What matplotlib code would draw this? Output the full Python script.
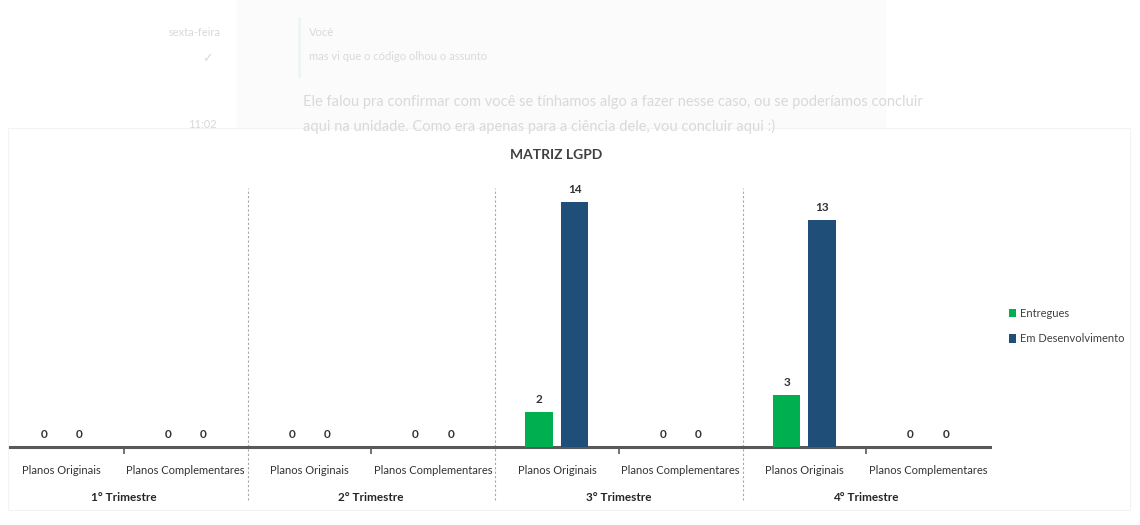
import matplotlib.pyplot as plt
import matplotlib.transforms as mtransforms
from matplotlib.patches import Rectangle
from matplotlib.lines import Line2D
import numpy as np

plt.rcParams['font.family'] = ['Lato', 'DejaVu Sans']

# data
categorias = ['Planos Originais', 'Planos Complementares'] * 4
trimestres = ['1° Trimestre', '2° Trimestre', '3° Trimestre', '4° Trimestre']
entregues = [0, 0, 0, 0, 2, 0, 3, 0]
em_desenvolvimento = [0, 0, 0, 0, 14, 0, 13, 0]
series_nomes = ['Entregues', 'Em Desenvolvimento']

verde = '#00B050'
azul = '#1F4E79'

W, H = 1140, 525
fig = plt.figure(figsize=(W / 100, H / 100), dpi=100)
fig.patch.set_facecolor('white')

# faint chat screenshot behind the chart
fig.patches.append(Rectangle((237 / W, 1 - 128 / H), 648 / W, 128 / H,
                             transform=fig.transFigure, color='#fbfbfb', zorder=0))
fig.patches.append(Rectangle((8 / W, 1 - 510 / H), 1122 / W, 382 / H,
                             transform=fig.transFigure, facecolor='white',
                             edgecolor='#f3f3f3', lw=0.8, zorder=0))
fig.lines.append(Line2D([299 / W, 299 / W], [1 - 18 / H, 1 - 76 / H],
                        transform=fig.transFigure, color='#eef5f5', lw=2))
fundo = '#d9d9d9'
fig.text(195 / W, 1 - 33 / H, 'sexta-feira', color=fundo, fontsize=8, ha='center', va='center')
fig.text(207 / W, 1 - 58 / H, '✓', color=fundo, fontsize=9, ha='center', va='center')
fig.text(202 / W, 1 - 124 / H, '11:02', color=fundo, fontsize=8, ha='center', va='center')
fig.text(309 / W, 1 - 32 / H, 'Você', color=fundo, fontsize=8, va='center')
fig.text(309 / W, 1 - 57 / H, 'mas vi que o código olhou o assunto', color=fundo, fontsize=8, va='center')
fig.text(303 / W, 1 - 102 / H,
         'Ele falou pra confirmar com você se tínhamos algo a fazer nesse caso, ou se poderíamos concluir',
         color=fundo, fontsize=10.5, va='center')
fig.text(303 / W, 1 - 126 / H,
         'aqui na unidade. Como era apenas para a ciência dele, vou concluir aqui :)',
         color=fundo, fontsize=10.5, va='center')

# chart
ax = fig.add_axes([0 / W, 1 - 447 / H, 990 / W, 264 / H])
ax.set_zorder(2)
ax.set_facecolor('none')
x = np.arange(len(categorias))
larg = 0.222
desl = 0.143
b1 = ax.bar(x - desl, entregues, larg, color=verde, label=series_nomes[0], zorder=3)
b2 = ax.bar(x + desl, em_desenvolvimento, larg, color=azul, label=series_nomes[1], zorder=3)
for barras in (b1, b2):
    ax.bar_label(barras, padding=5, fontsize=8.5, fontweight='bold', color='#333333')

ax.set_xlim(-0.5, len(categorias) - 0.5)
ax.set_ylim(0, 15.1)
ax.set_yticks([])
for s in ['top', 'right', 'left']:
    ax.spines[s].set_visible(False)
ax.spines['bottom'].set_color('#595959')
ax.spines['bottom'].set_linewidth(2.2)
ax.spines['bottom'].set_bounds(-0.42, len(categorias) - 0.5)

ax.set_xticks(x)
ax.set_xticklabels(categorias, fontsize=8, color='#333333')
ax.tick_params(axis='x', length=0, pad=13)
ax.set_xticks(np.arange(0.5, len(categorias), 2), minor=True)
ax.tick_params(axis='x', which='minor', length=5, width=1.2, color='#595959')

trans = mtransforms.blended_transform_factory(ax.transData, ax.transAxes)
for b in np.arange(1.5, len(categorias) - 1, 2):
    ax.plot([b, b], [-0.2, 0.98], transform=trans, color='#a6a6a6', lw=0.8,
            ls=(0, (2, 2)), clip_on=False, zorder=1)
for i, t in enumerate(trimestres):
    ax.text(2 * i + 0.5, -0.19, t, transform=trans, ha='center', va='center',
            fontsize=8.5, fontweight='bold', color='#262626')

fig.text(556 / W, 1 - 155 / H, 'MATRIZ LGPD', ha='center', va='center',
         fontsize=10, fontweight='bold', color='#404040')

fig.legend(handles=[b1, b2], loc='center left', bbox_to_anchor=(1009 / W, 1 - 326 / H),
           frameon=False, fontsize=8, handlelength=0.6, handleheight=0.8,
           handletextpad=0.4, labelspacing=1.3, labelcolor='#404040',
           borderpad=0, borderaxespad=0)

fig.savefig('out.png', dpi=100)
